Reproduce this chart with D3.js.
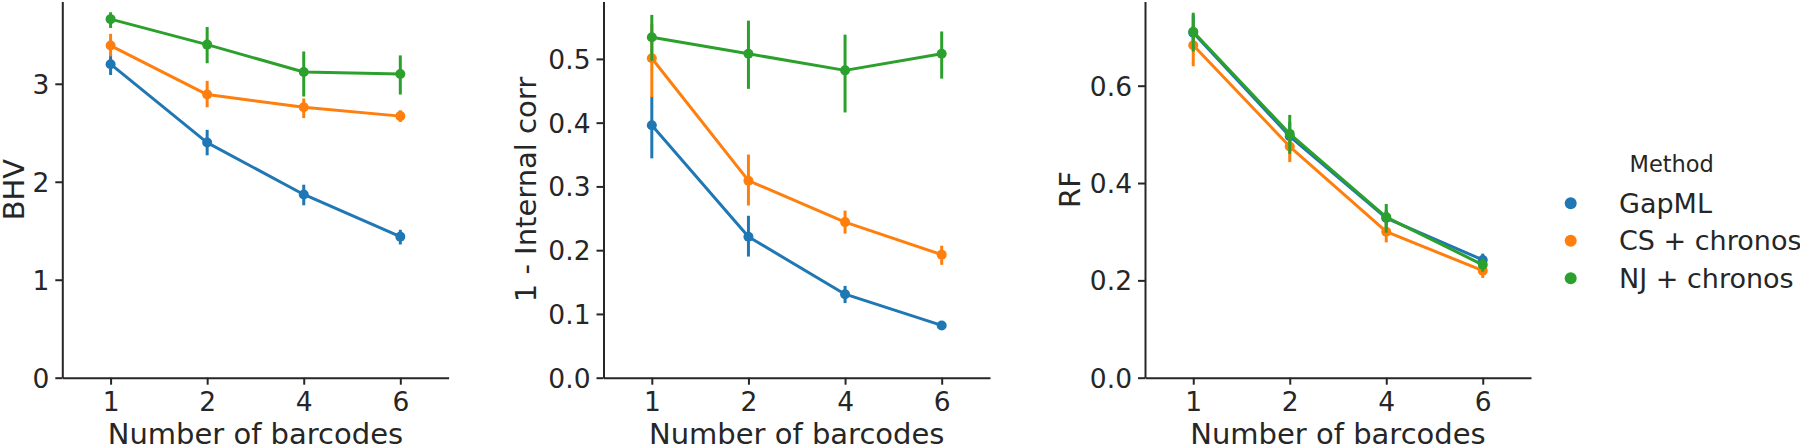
<!DOCTYPE html>
<html>
<head>
<meta charset="utf-8">
<script src="https://cdn.jsdelivr.net/npm/d3@7/dist/d3.min.js"></script>
<style>
  html, body { margin: 0; padding: 0; background: #ffffff; }
  svg { display: block; }
  text { font-family: "DejaVu Sans", sans-serif; fill: #262626; }
</style>
</head>
<body>
<svg id="chart" width="1800" height="445"></svg>
<script>
// ---------------- data ----------------
const categories = ["1", "2", "4", "6"];
const methods = ["GapML", "CS + chronos", "NJ + chronos"];
const colors = ["#1f77b4", "#ff7f0e", "#2ca02c"];

// BHV panel (rows: GapML, CS + chronos, NJ + chronos)
const bhvMean = [[3.20, 2.40, 1.87, 1.44], [3.39, 2.89, 2.76, 2.67], [3.66, 3.40, 3.12, 3.10]];
const bhvLow  = [[3.09, 2.27, 1.76, 1.36], [3.28, 2.76, 2.65, 2.61], [3.57, 3.21, 2.87, 2.89]];
const bhvHigh = [[3.30, 2.53, 1.97, 1.51], [3.51, 3.03, 2.85, 2.73], [3.73, 3.58, 3.33, 3.29]];
const bhvTicks = [0, 1, 2, 3];

// 1 - Internal corr panel
const corrMean = [[0.396, 0.221, 0.131, 0.082], [0.501, 0.309, 0.244, 0.193], [0.534, 0.508, 0.482, 0.508]];
const corrLow  = [[0.344, 0.190, 0.117, 0.078], [0.440, 0.270, 0.226, 0.177], [0.497, 0.453, 0.416, 0.469]];
const corrHigh = [[0.441, 0.254, 0.144, 0.086], [0.555, 0.350, 0.262, 0.207], [0.569, 0.560, 0.538, 0.543]];
const corrTicks = [0, 0.1, 0.2, 0.3, 0.4, 0.5];

// RF panel
const rfMean = [[0.709, 0.496, 0.328, 0.242], [0.683, 0.475, 0.300, 0.220], [0.711, 0.501, 0.330, 0.232]];
const rfLow  = [[0.675, 0.465, 0.310, 0.232], [0.640, 0.443, 0.278, 0.205], [0.670, 0.460, 0.298, 0.218]];
const rfHigh = [[0.745, 0.525, 0.345, 0.255], [0.725, 0.505, 0.322, 0.235], [0.750, 0.540, 0.357, 0.245]];
const rfTicks = [0, 0.2, 0.4, 0.6];

const xLabel = "Number of barcodes";
const legendTitle = "Method";

// ---------------- layout ----------------
const panels = [
  { mean: bhvMean, low: bhvLow, high: bhvHigh, ticks: bhvTicks, fmt: d3.format("d"),
    yMax: 3.84, ylabel: "BHV", x0: 62.3, x1: 448.6, labelOff: 38 },
  { mean: corrMean, low: corrLow, high: corrHigh, ticks: corrTicks, fmt: d3.format(".1f"),
    yMax: 0.590, ylabel: "1 - Internal corr", x0: 603.5, x1: 990, labelOff: 68 },
  { mean: rfMean, low: rfLow, high: rfHigh, ticks: rfTicks, fmt: d3.format(".1f"),
    yMax: 0.773, ylabel: "RF", x0: 1145, x1: 1531, labelOff: 65 }
];
const yTop = 1.5, yBottom = 377.7;
const tickFont = 26.5, labelFont = 29;

const svg = d3.select("#chart");

panels.forEach(p => {
  const x = d3.scalePoint().domain(categories).range([p.x0, p.x1]).padding(0.5);
  const y = d3.scaleLinear().domain([0, p.yMax]).range([yBottom, yTop]);
  const g = svg.append("g");

  // axes
  const ax = g.append("g").attr("transform", `translate(0,${yBottom})`)
    .call(d3.axisBottom(x).tickSize(7).tickSizeOuter(0).tickPadding(6));
  const ay = g.append("g").attr("transform", `translate(${p.x0},0)`)
    .call(d3.axisLeft(y).tickValues(p.ticks).tickFormat(p.fmt).tickSize(7).tickSizeOuter(0).tickPadding(6));
  [ax, ay].forEach(a => {
    a.select(".domain").attr("stroke", "#262626").attr("stroke-width", 2);
    a.selectAll(".tick line").attr("stroke", "#262626").attr("stroke-width", 2);
    a.selectAll(".tick text").style("font-size", tickFont + "px")
      .style("font-family", '"DejaVu Sans", sans-serif').attr("fill", "#262626");
  });
  ay.selectAll(".tick text").attr("dy", "0.36em");
  ax.selectAll(".tick text").attr("dy", "0.76em");

  // labels
  g.append("text").attr("x", (p.x0 + p.x1) / 2).attr("y", 444)
    .attr("text-anchor", "middle").style("font-size", labelFont + "px").text(xLabel);
  g.append("text")
    .attr("transform", `translate(${p.x0 - p.labelOff},${(yTop + yBottom) / 2}) rotate(-90)`)
    .attr("text-anchor", "middle").style("font-size", labelFont + "px").text(p.ylabel);

  // series
  methods.forEach((m, i) => {
    const sg = g.append("g");
    const pts = categories.map((c, j) => ({ c, v: p.mean[i][j], lo: p.low[i][j], hi: p.high[i][j] }));
    sg.append("path").datum(pts)
      .attr("fill", "none").attr("stroke", colors[i]).attr("stroke-width", 3)
      .attr("stroke-linejoin", "round")
      .attr("d", d3.line().x(d => x(d.c)).y(d => y(d.v)));
    sg.selectAll("line.err").data(pts).join("line").attr("class", "err")
      .attr("x1", d => x(d.c)).attr("x2", d => x(d.c))
      .attr("y1", d => y(d.lo)).attr("y2", d => y(d.hi))
      .attr("stroke", colors[i]).attr("stroke-width", 3);
    sg.selectAll("circle").data(pts).join("circle")
      .attr("cx", d => x(d.c)).attr("cy", d => y(d.v)).attr("r", 5)
      .attr("fill", colors[i]);
  });
});

// legend
const lg = svg.append("g");
lg.append("text").attr("x", 1671.7).attr("y", 171.7).attr("text-anchor", "middle")
  .style("font-size", "22.5px").text(legendTitle);
const legendY = d3.scalePoint().domain(methods).range([212.7, 287.7]);
methods.forEach((m, i) => {
  lg.append("circle").attr("cx", 1570.7).attr("cy", legendY(m) - 9.5).attr("r", 6).attr("fill", colors[i]);
  lg.append("text").attr("x", 1619).attr("y", legendY(m)).style("font-size", "27px").text(m);
});
</script>
</body>
</html>
